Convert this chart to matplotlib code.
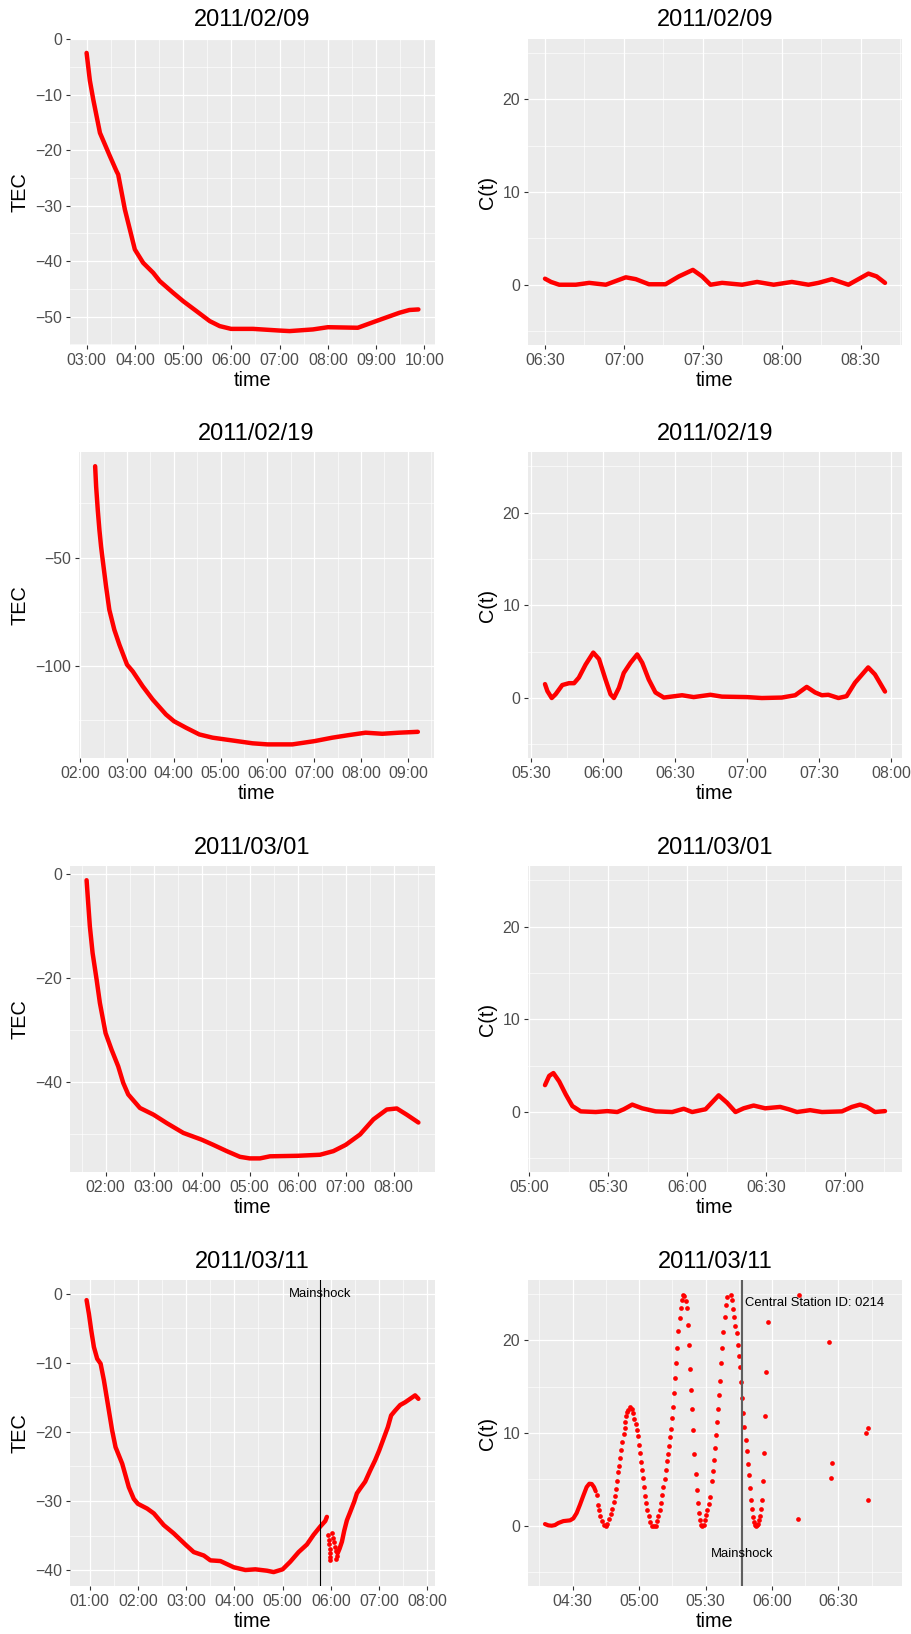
import matplotlib
matplotlib.use("Agg")
import matplotlib.pyplot as plt
from matplotlib.ticker import MultipleLocator, FuncFormatter

plt.rcParams['font.family'] = ['Liberation Sans', 'DejaVu Sans']

# all times are minutes after 00:00 UTC
MAINSHOCK = 346.3

# 2011/02/09
tec_0209_t = [180.0, 184.1, 188.3, 196.6, 209.0, 217.2, 219.3, 227.6, 233.8, 240.0, 250.3, 262.8, 271.0,
              287.6, 300.0, 316.6, 333.1, 345.5, 359.6, 386.9, 419.6, 432.4, 461.4, 480.0, 517.2, 540.0,
              569.0, 581.4, 592.6]
tec_0209_v = [-2.5, -7.5, -10.9, -16.9, -21.1, -23.8, -24.4, -30.7, -34.3, -37.9, -40.3, -42.1, -43.6,
              -45.7, -47.2, -49.0, -50.8, -51.7, -52.2, -52.2, -52.5, -52.6, -52.3, -51.9, -52.0, -50.8,
              -49.3, -48.8, -48.7]
ct_0209_t = [390.0, 392.3, 395.4, 401.7, 406.8, 413.1, 416.9, 420.7, 424.5, 429.5, 435.8, 440.9, 446.2,
             449.7, 452.9, 457.3, 464.9, 470.6, 476.9, 483.8, 490.1, 493.9, 499.0, 505.3, 509.1, 512.9,
             516.0, 519.2]
ct_0209_v = [0.65, 0.3, 0.0, 0.0, 0.2, 0.0, 0.4, 0.8, 0.6, 0.05, 0.05, 0.9, 1.6, 0.9, 0.0, 0.2, 0.0, 0.3,
             0.0, 0.3, 0.0, 0.2, 0.6, 0.0, 0.6, 1.2, 0.9, 0.2]

# 2011/02/19
tec_0219_t = [139.2, 140.5, 142.6, 144.7, 146.8, 148.9, 153.2, 157.4, 163.8, 170.3, 180.1, 187.4, 200.2,
              213.0, 230.0, 240.2, 255.6, 272.7, 289.7, 315.3, 340.9, 360.1, 392.0, 420.2, 443.2, 464.5,
              485.8, 507.2, 528.5, 552.8]
tec_0219_v = [-7.8, -17.3, -28.1, -37.3, -44.9, -51.1, -63.3, -74.1, -83.3, -90.2, -99.4, -102.5, -109.4,
              -115.5, -122.4, -125.5, -128.5, -131.6, -133.1, -134.4, -135.7, -136.2, -136.2, -134.7,
              -133.1, -131.9, -130.8, -131.3, -130.8, -130.4]
ct_0219_t = [335.8, 336.8, 338.6, 340.2, 343.0, 345.8, 347.9, 349.9, 352.7, 355.9, 358.3, 361.0, 363.1,
             364.5, 366.6, 368.6, 371.4, 374.2, 376.3, 379.0, 381.8, 385.3, 392.9, 397.7, 404.7, 409.5,
             420.0, 426.1, 434.4, 440.0, 444.8, 448.3, 451.1, 453.8, 458.0, 461.4, 464.9, 470.4, 473.2,
             477.4]
ct_0219_v = [1.5, 0.75, 0.0, 0.4, 1.4, 1.6, 1.6, 2.2, 3.6, 4.9, 4.2, 2.0, 0.4, 0.0, 1.1, 2.7, 3.8, 4.7,
             3.8, 2.0, 0.6, 0.05, 0.3, 0.1, 0.35, 0.15, 0.1, 0.0, 0.05, 0.3, 1.2, 0.6, 0.3, 0.35, 0.0,
             0.2, 1.65, 3.3, 2.55, 0.7]

# 2011/03/01
tec_0301_t = [96.3, 98.3, 100.4, 103.8, 108.8, 112.9, 120.0, 127.5, 135.8, 142.1, 148.3, 162.9, 180.0,
              196.3, 217.1, 240.0, 254.6, 271.3, 287.9, 300.0, 312.9, 325.4, 360.0, 387.9, 404.6, 420.0,
              437.9, 454.6, 471.3, 483.8, 496.3, 510.8]
tec_0301_v = [-1.2, -5.6, -10.1, -15.2, -20.3, -24.8, -30.6, -33.8, -37.0, -40.2, -42.4, -45.0, -46.3,
              -47.9, -49.8, -51.1, -52.1, -53.3, -54.4, -54.7, -54.7, -54.3, -54.2, -54.0, -53.3, -52.1,
              -50.1, -47.2, -45.3, -45.1, -46.3, -47.8]
ct_0301_t = [305.9, 307.5, 309.1, 311.3, 313.8, 316.3, 319.5, 325.2, 329.6, 333.4, 335.9, 339.1, 342.9,
             348.0, 354.3, 358.7, 361.9, 367.0, 372.0, 375.2, 378.4, 381.5, 385.3, 389.7, 395.4, 398.6,
             401.8, 406.8, 411.3, 418.9, 422.7, 425.8, 428.4, 431.5, 435.3]
ct_0301_v = [2.9, 3.9, 4.2, 3.3, 1.9, 0.65, 0.07, 0.0, 0.1, 0.0, 0.3, 0.8, 0.4, 0.07, 0.0, 0.35, 0.0, 0.3,
             1.8, 1.0, 0.0, 0.4, 0.7, 0.4, 0.55, 0.3, 0.0, 0.2, 0.0, 0.07, 0.55, 0.8, 0.55, 0.0, 0.1]

# 2011/03/11 TEC: before the gap, scattered samples, after
tec_0311_a_t = [56.3, 59.2, 62.1, 65.4, 69.5, 73.7, 77.8, 81.9, 88.1, 92.3, 100.6, 108.8, 115.0, 120.0,
                131.6, 139.9, 152.3, 164.7, 180.0, 189.5, 202.0, 210.2, 222.6, 239.2, 253.7, 266.1,
                280.6, 288.8, 300.0, 309.5, 319.9, 330.2, 338.5, 346.8, 353.0, 355.0]
tec_0311_a_v = [-0.9, -2.9, -5.3, -7.7, -9.4, -10.1, -12.5, -15.4, -19.8, -22.2, -24.6, -28.0, -29.7,
                -30.4, -31.1, -31.8, -33.5, -34.7, -36.4, -37.4, -37.9, -38.6, -38.7, -39.6, -40.0, -39.9,
                -40.1, -40.3, -39.9, -38.8, -37.4, -36.3, -34.9, -33.7, -32.9, -32.3]
tec_0311_b_t = [356.3, 357.1, 357.9, 358.3, 358.5, 358.9, 359.2, 361.3, 362.9, 364.1, 365.0, 365.8,
                366.6, 367.4]
tec_0311_b_v = [-34.9, -36.3, -35.6, -37.6, -38.1, -38.5, -37.0, -34.7, -35.4, -36.0, -36.7, -37.3,
                -38.4, -38.0]
tec_0311_c_t = [368.3, 370.8, 373.7, 376.6, 379.9, 384.0, 389.0, 392.3, 396.4, 402.6, 408.8, 415.0, 420.0,
                425.4, 430.8, 434.9, 439.9, 446.1, 452.3, 458.5, 464.7, 468.8]
tec_0311_c_v = [-37.6, -36.9, -35.9, -34.3, -32.8, -31.6, -30.1, -28.9, -28.2, -27.2, -25.6, -24.1, -22.7,
                -21.0, -19.3, -17.6, -16.9, -16.1, -15.7, -15.2, -14.7, -15.2]

# 2011/03/11 C(t): dense start, then individual samples
ct_0311_dense_t = [257.5, 259.0, 260.5, 262.0, 263.5, 265.8, 268.8, 270.3, 271.8, 273.3, 274.8, 276.3,
                   277.5, 278.6, 279.6, 280.4]
ct_0311_dense_v = [0.18, 0.04, 0.0, 0.07, 0.29, 0.50, 0.58, 0.79, 1.37, 2.27, 3.24, 4.17, 4.53, 4.50,
                   4.17, 3.71]
ct_0311_t = [280.8, 281.6, 282.0, 282.5, 283.1, 284.0, 284.9, 285.6, 286.5, 287.3,
             287.9, 288.5, 289.1, 289.4, 290.0, 290.3, 291.1, 291.5, 292.0, 292.4,
             293.0, 293.5, 293.8, 294.2, 294.7, 295.1, 295.9, 296.6, 297.2, 297.8,
             298.4, 298.9, 299.5, 299.9, 300.5, 301.0, 301.4, 301.9, 302.3, 302.8,
             303.2, 303.7, 304.3, 304.9, 305.6, 306.5, 307.4, 308.2, 308.7, 309.4,
             309.9, 310.3, 310.9, 311.5, 312.0, 312.4, 313.0, 313.5, 313.9, 314.5,
             315.0, 315.4, 315.9, 316.3, 316.8, 317.2, 317.7, 318.4, 318.9, 319.3,
             319.8, 320.4, 321.0, 321.6, 322.0, 322.5, 322.9, 323.5, 324.0, 324.4,
             324.9, 325.5, 325.9, 326.5, 327.0, 327.4, 328.1, 328.5, 329.1, 329.7,
             330.3, 330.8, 331.4, 332.0,
             333.0, 333.3, 333.6, 334.2, 334.5, 335.0, 335.4, 336.0, 336.5, 337.1,
             337.5, 338.0, 338.6, 339.0, 339.5, 341.4, 342.0, 342.5, 342.9, 343.4,
             344.0, 344.6, 345.0, 345.5, 346.1, 346.5, 347.0, 347.4, 348.1, 348.5,
             349.1, 349.6, 350.0, 350.6, 351.1, 351.5, 352.0, 352.3, 352.7, 353.2,
             353.6, 354.1, 354.5, 355.1, 355.6, 356.0, 356.5, 356.9, 357.5, 358.1,
             371.7, 372.1, 385.9, 386.5, 387.0, 402.5, 403.1, 403.5]
ct_0311_v = [3.35, 2.27, 1.73, 1.01, 0.47, 0.11, 0.0, 0.22, 0.72, 1.26,
             1.80, 2.52, 3.17, 3.96, 4.86, 5.76, 6.47, 7.30, 8.13, 8.99,
             9.93, 10.54, 11.15, 11.80, 12.23, 12.52, 12.77, 12.59, 12.16, 11.51,
             10.97, 10.36, 9.64, 8.74, 7.84, 6.83, 5.97, 5.14, 4.17, 3.24,
             2.45, 1.73, 1.01, 0.36, 0.0, 0.0, 0.0, 0.47, 1.01, 1.73,
             2.45, 3.35, 4.17, 5.07, 6.04, 6.94, 7.77, 8.63, 9.57, 10.43,
             11.62, 12.84, 14.35, 15.97, 17.55, 19.17, 20.97, 22.41, 23.49, 24.32,
             24.93, 24.82, 24.21, 23.49, 21.69, 19.53, 16.91, 14.60, 12.59, 10.29,
             7.70, 5.58, 3.88, 2.45, 1.37, 0.58, 0.07, 0.0, 0.11, 0.58,
             1.12, 1.65, 2.37, 3.09,
             4.78, 5.94, 7.12, 8.38, 9.82, 11.22, 12.63, 14.06, 15.65, 17.52,
             19.17, 20.94, 22.55, 23.81, 24.68, 24.86, 24.32, 23.38, 22.55, 21.51,
             20.83, 19.53, 18.27, 17.09, 15.47, 13.81, 12.12, 10.65, 9.28, 8.06,
             6.62, 5.43, 4.06, 2.81, 1.76, 0.90, 0.36, 0.11, 0.0, 0.07,
             0.18, 0.58, 1.08, 1.76, 2.81, 4.86, 7.81, 11.80, 16.55, 22.01,
             0.76, 24.93, 19.86, 5.14, 6.76, 10.0, 2.73, 10.54]
# samples above 25 were dropped but still stretch the time axis to here
ct_0311_last_t = 411.0

ct_limits = (-5, 25)
RED = '#FF0000'


def hhmm(x, pos=None):
    m = int(round(x))
    return "%02d:%02d" % (m // 60, m % 60)


def padded(lo, hi, frac=0.05):
    d = (hi - lo) * frac
    return lo - d, hi + d


def style(ax, title, ylabel, xmajor, ymajor):
    ax.set_facecolor('#EBEBEB')
    for s in ax.spines.values():
        s.set_visible(False)
    ax.xaxis.set_major_locator(MultipleLocator(xmajor))
    ax.xaxis.set_minor_locator(MultipleLocator(xmajor / 2))
    ax.xaxis.set_major_formatter(FuncFormatter(hhmm))
    ax.yaxis.set_major_locator(MultipleLocator(ymajor))
    ax.yaxis.set_minor_locator(MultipleLocator(ymajor / 2))
    ax.yaxis.set_major_formatter(FuncFormatter(lambda v, p: ("%g" % v).replace('-', '\u2212')))
    ax.grid(which='major', color='white', lw=0.9)
    ax.grid(which='minor', color='white', lw=0.45)
    ax.set_axisbelow(True)
    ax.tick_params(which='major', length=3.2, width=0.8, color='#333333',
                   labelcolor='#4D4D4D', labelsize=11.4, pad=2.5)
    ax.tick_params(which='minor', length=0)
    ax.set_title(title, fontsize=17, pad=9)
    ax.set_xlabel('time', fontsize=14.3, labelpad=2)
    ax.set_ylabel(ylabel, fontsize=14.3, labelpad=4)


def red_line(ax, t, v, width=3.2):
    ax.plot(t, v, color=RED, lw=width, solid_capstyle='round', solid_joinstyle='round')


fig = plt.figure(figsize=(9.12, 16.34), dpi=100)
W, H = 912.0, 1634.0
row_bottoms = [345, 758.3, 1172.3, 1586]
ph = 306


def axes_at(left, width, row):
    return fig.add_axes([left / W, 1 - row_bottoms[row] / H, width / W, ph / H])


dates = ['2011/02/09', '2011/02/19', '2011/03/01', '2011/03/11']
dot = 3.4

# left column: TEC
tec_series = [(tec_0209_t, tec_0209_v, 10), (tec_0219_t, tec_0219_v, 50), (tec_0301_t, tec_0301_v, 20)]
for row, (t, v, ymaj) in enumerate(tec_series):
    left, width = (79, 355) if row == 1 else (70, 365)
    ax = axes_at(left, width, row)
    red_line(ax, t, v)
    style(ax, dates[row], 'TEC', 60, ymaj)

ax = axes_at(70, 365, 3)
red_line(ax, tec_0311_a_t, tec_0311_a_v)
ax.plot(tec_0311_b_t, tec_0311_b_v, 'o', color=RED, ms=dot, mew=0)
red_line(ax, tec_0311_c_t, tec_0311_c_v)
all_v = tec_0311_a_v + tec_0311_b_v + tec_0311_c_v
ax.set_ylim(*padded(min(all_v), max(max(all_v), 0)))
ax.axvline(MAINSHOCK, color='black', lw=0.8)
ax.text(MAINSHOCK, 0, 'Mainshock', ha='center', va='center', fontsize=9.4)
style(ax, dates[3], 'TEC', 60, 10)

# right column: C(t)
ct_series = [(ct_0209_t, ct_0209_v), (ct_0219_t, ct_0219_v), (ct_0301_t, ct_0301_v)]
for row, (t, v) in enumerate(ct_series):
    ax = axes_at(528, 374, row)
    red_line(ax, t, v)
    ax.set_ylim(*padded(*ct_limits))
    style(ax, dates[row], 'C(t)', 30, 10)

ax = axes_at(528, 374, 3)
red_line(ax, ct_0311_dense_t, ct_0311_dense_v, 3.0)
ax.plot(ct_0311_t, ct_0311_v, 'o', color=RED, ms=dot, mew=0)
ax.set_ylim(*padded(*ct_limits))
ax.set_xlim(*padded(ct_0311_dense_t[0], ct_0311_last_t))
ax.axvline(MAINSHOCK, color='#5f5f5f', lw=1.5)
ax.text(MAINSHOCK, -3, 'Mainshock', ha='center', va='center', fontsize=9.4)
ax.text(379.4, 24, 'Central Station ID: 0214', ha='center', va='center', fontsize=9.4)
style(ax, dates[3], 'C(t)', 30, 10)

fig.savefig('out.png', dpi=100)
